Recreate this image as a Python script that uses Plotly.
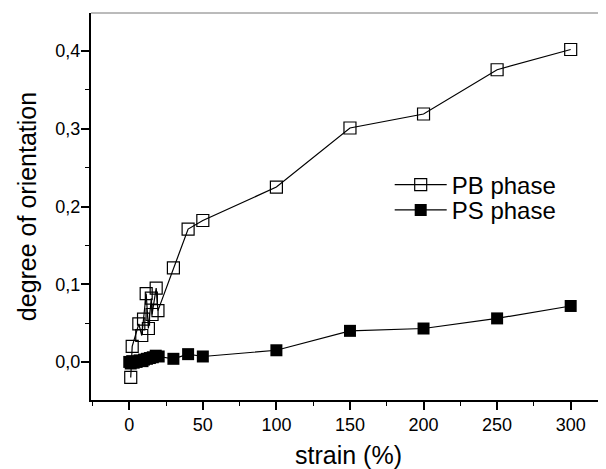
import plotly.graph_objects as go

pb_strain = [1, 2, 6.5, 8.5, 9.7, 11.5, 13, 15, 15.5, 18.3, 19.5, 30, 40, 50, 100, 150, 200, 250, 300]
pb_orient = [-0.020, 0.020, 0.049, 0.034, 0.055, 0.088, 0.043, 0.082, 0.061, 0.095, 0.066,
             0.121, 0.171, 0.182, 0.225, 0.301, 0.319, 0.376, 0.402]

ps_strain = [0, 1, 2, 3, 5, 7, 9, 10, 12, 14, 16, 18, 20, 30, 40, 50, 100, 150, 200, 250, 300]
ps_orient = [0.000, -0.002, 0.001, -0.001, 0.000, 0.002, 0.001, 0.003, 0.004, 0.005, 0.006,
             0.008, 0.007, 0.004, 0.010, 0.007, 0.015, 0.040, 0.043, 0.056, 0.072]

x_tickvals = [0, 50, 100, 150, 200, 250, 300]
x_ticktext = ["0", "50", "100", "150", "200", "250", "300"]
y_tickvals = [0.0, 0.1, 0.2, 0.3, 0.4]
y_ticktext = ["0,0", "0,1", "0,2", "0,3", "0,4"]

FONT = "Liberation Sans, Arial, sans-serif"

fig = go.Figure()
fig.add_trace(go.Scatter(
    x=pb_strain, y=pb_orient, name="PB phase", mode="lines+markers",
    line=dict(color="black", width=1.2),
    marker=dict(symbol="square-open", size=12, color="black", line=dict(width=1.2)),
    legend="legend", showlegend=True,
))
fig.add_trace(go.Scatter(
    x=ps_strain, y=ps_orient, name="PS phase", mode="lines+markers",
    line=dict(color="black", width=1.2),
    marker=dict(symbol="square", size=12, color="black"),
    legend="legend2", showlegend=True,
))

legend_common = dict(xanchor="left", yanchor="middle", bgcolor="rgba(0,0,0,0)",
                     font=dict(size=24, family=FONT, color="black"), itemwidth=52)

fig.update_layout(
    width=598, height=461,
    showlegend=True,
    margin=dict(l=83, r=0, t=5, b=69, autoexpand=False),
    paper_bgcolor="white", plot_bgcolor="white",
    font=dict(family=FONT, color="black", size=18),
    legend=dict(x=0.58, y=0.5556, **legend_common),
    legend2=dict(x=0.58, y=0.49, **legend_common),
    xaxis=dict(
        range=[-26, 324], showgrid=False, zeroline=False,
        showline=True, linecolor="black", linewidth=1.5,
        tickmode="array", tickvals=x_tickvals, ticktext=x_ticktext,
        ticks="outside", ticklen=8, tickwidth=1.5, tickcolor="black",
        minor=dict(tickmode="linear", tick0=-25, dtick=25, ticks="outside",
                   ticklen=4, tickwidth=1, tickcolor="black"),
        title=dict(text="strain (%)", font=dict(size=25), standoff=16),
        tickfont=dict(size=18),
    ),
    yaxis=dict(
        range=[-0.049, 0.449], showgrid=False, zeroline=False,
        showline=True, linecolor="black", linewidth=2,
        tickmode="array", tickvals=y_tickvals, ticktext=y_ticktext,
        ticks="outside", ticklen=8, tickwidth=1.5, tickcolor="black",
        ticklabelstandoff=-3,
        minor=dict(tickmode="linear", tick0=-0.05, dtick=0.05, ticks="outside",
                   ticklen=4, tickwidth=1, tickcolor="black"),
        title=dict(text="degree of orientation", font=dict(size=25), standoff=12),
        tickfont=dict(size=18),
    ),
    shapes=[dict(type="line", xref="paper", yref="paper", x0=0, x1=1, y0=1, y1=1,
                 line=dict(color="#777777", width=1))],
)

fig.write_html("out.html")
